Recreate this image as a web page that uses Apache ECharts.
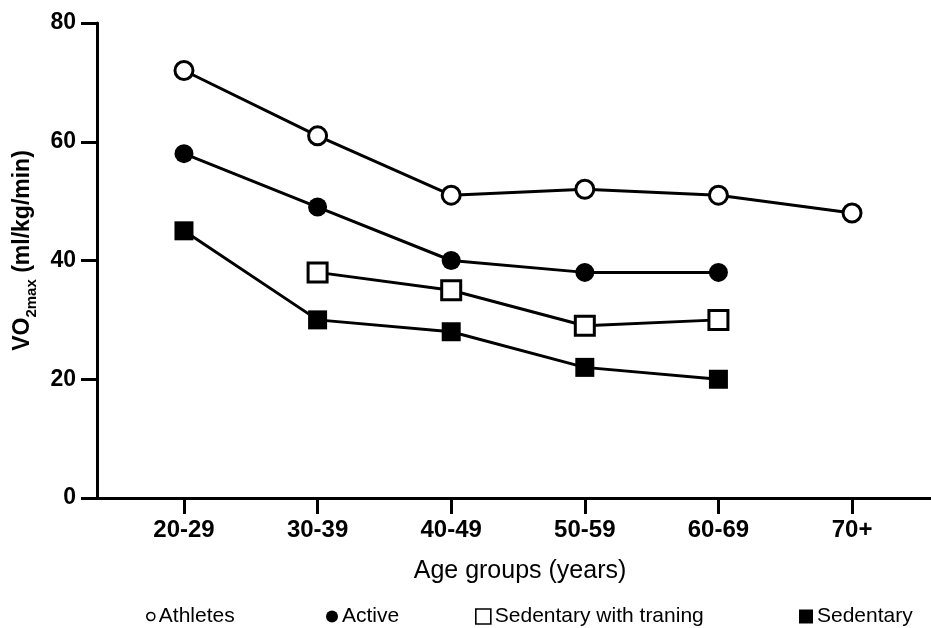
<!DOCTYPE html>
<html>
<head>
<meta charset="utf-8">
<script src="https://cdn.jsdelivr.net/npm/echarts@6/dist/echarts.min.js"></script>
<style>
  html, body { margin: 0; padding: 0; background: #fff; }
  #chart { width: 931px; height: 628px; }
</style>
</head>
<body>
<div id="chart"></div>
<script>
// Age groups on the x axis
const ageGroups = ['20-29', '30-39', '40-49', '50-59', '60-69', '70+'];

// VO2max (ml/kg/min) per age group; null where a group has no value
const athletes = [72, 61, 51, 52, 51, 48];
const active = [58, 49, 40, 38, 38, null];
const sedentaryTraining = [null, 38, 35, 29, 30, null];
const sedentary = [45, 30, 28, 22, 20, null];

// y axis ticks
const yTicks = [0, 20, 40, 60, 80];

const FONT = '"Liberation Sans", Arial, Helvetica, sans-serif';

function toPoints(values) {
  const pts = [];
  values.forEach((v, i) => { if (v !== null) pts.push([i, v]); });
  return pts;
}

const groupIdx = ageGroups.map((_, i) => i);

function makeSeries(name, values, symbol, size, filled) {
  return {
    name: name,
    type: 'line',
    data: toPoints(values),
    symbol: symbol,
    symbolSize: size,
    showAllSymbol: true,
    lineStyle: { color: '#000', width: 3 },
    itemStyle: filled
      ? { color: '#000', borderColor: '#000', borderWidth: 0 }
      : { color: '#fff', borderColor: '#000', borderWidth: 3 },
    emphasis: { disabled: true },
    z: 3
  };
}

function makeLegend(name, icon, size, filled, left) {
  return {
    left: left,
    top: 601,
    selectedMode: false,
    itemWidth: size,
    itemHeight: size,
    textStyle: { fontFamily: FONT, fontSize: 21, color: '#000', padding: [0, 0, 0, -1] },
    data: [{
      name: name,
      icon: icon,
      itemStyle: filled
        ? { color: '#000', borderWidth: 0 }
        : { color: '#fff', borderColor: '#000', borderWidth: 1.6 }
    }]
  };
}

const chart = echarts.init(document.getElementById('chart'), null, { renderer: 'canvas' });

chart.setOption({
  animation: false,
  backgroundColor: '#fff',
  grid: { left: 97, right: 0, top: 23, bottom: 130, containLabel: false },
  legend: [
    makeLegend('Athletes', 'circle', 8, false, 141),
    makeLegend('Active', 'circle', 12, true, 321),
    makeLegend('Sedentary with traning', 'rect', 15, false, 470),
    makeLegend('Sedentary', 'rect', 14, true, 794)
  ],
  xAxis: {
    type: 'value',
    min: -0.651,
    max: 5.591,
    name: 'Age groups (years)',
    nameLocation: 'middle',
    nameGap: 61,
    nameTextStyle: { fontFamily: FONT, fontSize: 25, color: '#000', padding: [0, 0, 0, 12] },
    axisLine: { show: true, onZero: false, lineStyle: { color: '#000', width: 3 } },
    axisTick: { show: true, length: 16, lineStyle: { color: '#000', width: 3 }, customValues: groupIdx },
    axisLabel: {
      customValues: groupIdx,
      formatter: v => ageGroups[Math.round(v)] ?? '',
      fontFamily: FONT, fontSize: 24, fontWeight: 'bold', color: '#000', margin: 20
    },
    splitLine: { show: false }
  },
  yAxis: {
    type: 'value',
    min: yTicks[0],
    max: yTicks[yTicks.length - 1],
    interval: 20,
    name: '{b|VO}{s|2max}{b| (ml/kg/min)}',
    nameLocation: 'middle',
    nameGap: 58,
    nameRotate: 90,
    nameTextStyle: {
      padding: [0, 0, 0, 20],
      rich: {
        b: { fontFamily: FONT, fontSize: 23, fontWeight: 'bold', color: '#000', verticalAlign: 'bottom', padding: [0, 0, 5, 0] },
        s: { fontFamily: FONT, fontSize: 15, fontWeight: 'bold', color: '#000', verticalAlign: 'bottom' }
      }
    },
    axisLine: { show: true, onZero: false, lineStyle: { color: '#000', width: 3 } },
    axisTick: { show: true, length: 16, lineStyle: { color: '#000', width: 3 } },
    axisLabel: { fontFamily: FONT, fontSize: 23, fontWeight: 'bold', color: '#000', margin: 21 },
    splitLine: { show: false }
  },
  series: [
    makeSeries('Athletes', athletes, 'circle', 18, false),
    makeSeries('Active', active, 'circle', 19, true),
    makeSeries('Sedentary with traning', sedentaryTraining, 'rect', 19, false),
    makeSeries('Sedentary', sedentary, 'rect', 19, true)
  ]
});
</script>
</body>
</html>
